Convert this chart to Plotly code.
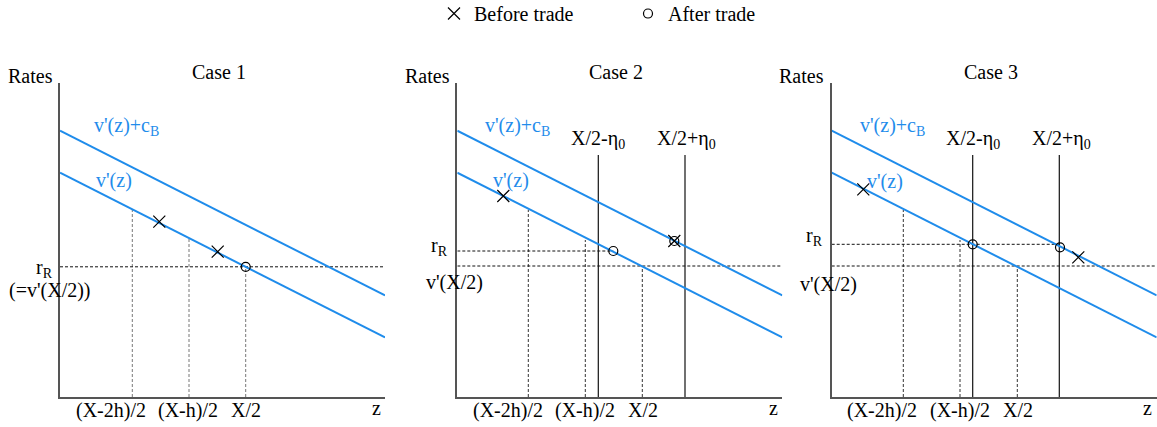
import plotly.graph_objects as go

W, H = 1157, 427
FONT = "Liberation Serif"
BLUE = "#1f8ceb"
FS = 20

# ---- data (schematic units: x in [0, 325], y in [0, 314] per panel) ----
line_x = [0, 325]
upper_y = [266.3, 101.6]      # v'(z)+c_B
lower_y = [224.3, 59.6]       # v'(z)

tick_text = ["(X-2h)/2", "(X-h)/2", "X/2"]
tick_label_x = [50.5, 128.0, 186.0]

# panel 1
p1_guide_x = [72.3, 129.0, 185.7]
p1_guide_top = [187.7, 158.9, 130.2]
p1_rR = 130.2
p1_rR_end = 325
p1_before = [(99.3, 175.3), (157.7, 145.3)]
p1_after = [(185.7, 130.2)]

# panel 2
p2_guide_x = [71.0, 128.0, 185.0]
p2_guide_top = [187.0, 157.0, 131.0]
p2_eta_x = [141.0, 227.7]
p2_eta_top = 242.0
p2_rR = 146.0
p2_rR_end = 156.0
p2_vX2 = 131.0
p2_before = [(46.0, 201.0), (217.0, 156.0)]
p2_after = [(156.0, 146.0), (217.0, 156.0)]

# panel 3
p3_guide_x = [71.6, 128.3, 185.6]
p3_guide_top = [187.0, 157.0, 131.0]
p3_eta_x = [141.0, 227.6]
p3_eta_top = 242.0
p3_rR = 152.7
p3_rR_end = 228.3
p3_vX2 = 131.0
p3_before = [(31.6, 207.7), (246.6, 139.7)]
p3_after = [(141.0, 152.7), (228.3, 149.7)]

x_domains = [(60, 385), (457.3, 782.3), (831.7, 1156.7)]  # pixel extents
y_bottom_px, y_top_px = 397, 83

fig = go.Figure()


def seg_trace(xs, ys, ax, color, width, dash=None):
    return go.Scatter(x=xs, y=ys, mode="lines", xaxis="x" + ax, yaxis="y" + ax,
                      line=dict(color=color, width=width, dash=dash),
                      hoverinfo="skip", showlegend=False)


panels = [
    dict(guide_x=p1_guide_x, guide_top=p1_guide_top, rR=p1_rR, rR_end=p1_rR_end,
         vX2=None, eta_x=[], eta_top=None, before=p1_before, after=p1_after,
         guide_color="#777777"),
    dict(guide_x=p2_guide_x, guide_top=p2_guide_top, rR=p2_rR, rR_end=p2_rR_end,
         vX2=p2_vX2, eta_x=p2_eta_x, eta_top=p2_eta_top, before=p2_before, after=p2_after,
         guide_color="#333333"),
    dict(guide_x=p3_guide_x, guide_top=p3_guide_top, rR=p3_rR, rR_end=p3_rR_end,
         vX2=p3_vX2, eta_x=p3_eta_x, eta_top=p3_eta_top, before=p3_before, after=p3_after,
         guide_color="#333333"),
]

for i, p in enumerate(panels):
    ax = "" if i == 0 else str(i + 1)
    gx, gy = [], []
    for x, t in zip(p["guide_x"], p["guide_top"]):
        gx += [x, x, None]
        gy += [0, t, None]
    fig.add_trace(seg_trace(gx, gy, ax, p["guide_color"], 1, "3px,2px"))
    hx, hy = [0, p["rR_end"], None], [p["rR"], p["rR"], None]
    if p["vX2"] is not None:
        hx += [0, 325]
        hy += [p["vX2"], p["vX2"]]
    fig.add_trace(seg_trace(hx, hy, ax, "#111111", 1, "3px,2px"))
    ex, ey = [], []
    for x in p["eta_x"]:
        ex += [x, x, None]
        ey += [0, p["eta_top"], None]
    if ex:
        fig.add_trace(seg_trace(ex, ey, ax, "#111111", 1.2))
    fig.add_trace(seg_trace(line_x, upper_y, ax, BLUE, 2))
    fig.add_trace(seg_trace(line_x, lower_y, ax, BLUE, 2))
    fig.add_trace(go.Scatter(
        x=[q[0] for q in p["before"]], y=[q[1] for q in p["before"]],
        mode="markers", xaxis="x" + ax, yaxis="y" + ax, name="Before trade",
        legendgroup="before", showlegend=(i == 0),
        marker=dict(symbol="x-thin-open", size=12, color="black",
                    line=dict(color="black", width=1.2)),
        hoverinfo="skip"))
    fig.add_trace(go.Scatter(
        x=[q[0] for q in p["after"]], y=[q[1] for q in p["after"]],
        mode="markers", xaxis="x" + ax, yaxis="y" + ax, name="After trade",
        legendgroup="after", showlegend=(i == 0),
        marker=dict(symbol="circle-open", size=9, color="black",
                    line=dict(color="black", width=1.2)),
        hoverinfo="skip"))

layout = dict(
    width=W, height=H, margin=dict(l=0, r=0, t=0, b=0, autoexpand=False),
    paper_bgcolor="white", plot_bgcolor="white",
    font=dict(family=FONT, size=FS, color="black"),
    showlegend=True,
    legend=dict(orientation="h", x=434 / W, xanchor="left", y=1.014, yanchor="top",
                font=dict(family=FONT, size=FS), bgcolor="rgba(0,0,0,0)",
                entrywidth=149, entrywidthmode="pixels", itemclick=False,
                itemdoubleclick=False),
)
for i, (x0, x1) in enumerate(x_domains):
    ax = "" if i == 0 else str(i + 1)
    layout["xaxis" + ax] = dict(
        domain=[x0 / W, min(x1 / W, 1.0)], range=[0, 325], anchor="y" + ax,
        showline=True, linecolor="#555555", linewidth=1.5, showgrid=False,
        zeroline=False, showticklabels=False, ticks="", fixedrange=True)
    layout["yaxis" + ax] = dict(
        domain=[(H - y_bottom_px) / H, (H - y_top_px) / H], range=[0, 314],
        anchor="x" + ax, showline=True, linecolor="#555555", linewidth=1.5,
        showgrid=False, zeroline=False, showticklabels=False, ticks="",
        fixedrange=True)
fig.update_layout(**layout)

ann = []


def px_x(i, x):
    """panel-i data x -> paper fraction (for labels outside the axis range)"""
    return (x_domains[i][0] + x) / W


def px_y(y):
    return (H - y_bottom_px + y) / H


def add(text, x, y, i, xanchor="center", color="black", size=FS,
        xpaper=False, ypaper=False):
    ax = "" if i == 0 else str(i + 1)
    ann.append(dict(text=text,
                    x=px_x(i, x) if xpaper else x,
                    y=px_y(y) if ypaper else y,
                    xref="paper" if xpaper else "x" + ax,
                    yref="paper" if ypaper else "y" + ax,
                    showarrow=False, xanchor=xanchor, yanchor="middle",
                    font=dict(family=FONT, size=size, color=color)))


cases = ["Case 1", "Case 2", "Case 3"]
for i in range(3):
    add("Rates", -30, 321, i, xpaper=True, ypaper=True)
    add(cases[i], 159, 325, i, ypaper=True)
    for t, x in zip(tick_text, tick_label_x):
        add(t, x, -13, i, ypaper=True)
    add("z", 316, -11, i, ypaper=True)

add("v'(z)+c<sub>B</sub>", 31.7, 271, 0, "left", BLUE)
add("v'(z)", 34, 216.3, 0, "left", BLUE)
add("r<sub>R</sub>", -5, 129, 0, "right", xpaper=True)
add("(=v'(X/2))", -9.5, 107, 0, xpaper=True)

add("v'(z)+c<sub>B</sub>", 25.7, 271, 1, "left", BLUE)
add("v'(z)", 33.4, 217, 1, "left", BLUE)
add("X/2-η<sub>0</sub>", 140.7, 258, 1)
add("X/2+η<sub>0</sub>", 228.7, 258, 1)
add("r<sub>R</sub>", -18, 151, 1, xpaper=True)
add("v'(X/2)", -3.3, 114.3, 1, xpaper=True)

add("v'(z)+c<sub>B</sub>", 26.6, 271, 2, "left", BLUE)
add("v'(z)", 33.3, 215.3, 2, "left", BLUE)
add("X/2-η<sub>0</sub>", 141.3, 258, 2)
add("X/2+η<sub>0</sub>", 229.3, 258, 2)
add("r<sub>R</sub>", -17.7, 161, 2, xpaper=True)
add("v'(X/2)", -3.7, 113, 2, xpaper=True)

fig.update_layout(annotations=ann)
fig.write_html("out.html", post_script="document.body.style.margin='0px';",
               config={"displayModeBar": False})
